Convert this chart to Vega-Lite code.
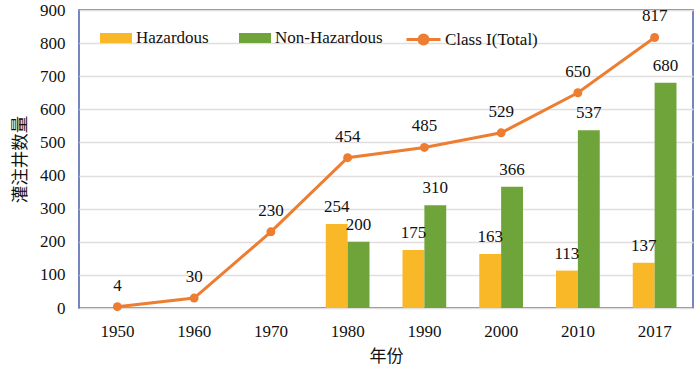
{
  "$schema": "https://vega.github.io/schema/vega-lite/v6.json",
  "autosize": "none",
  "width": 614,
  "height": 298,
  "padding": {"left": 79, "top": 10, "right": 7, "bottom": 67},
  "background": "white",
  "view": {"stroke": "#4a5ea8", "strokeWidth": 1.5},
  "datasets": {
    "bars": [
      {"year": "1980", "type": "Hazardous", "value": 254},
      {"year": "1980", "type": "Non-Hazardous", "value": 200},
      {"year": "1990", "type": "Hazardous", "value": 175},
      {"year": "1990", "type": "Non-Hazardous", "value": 310},
      {"year": "2000", "type": "Hazardous", "value": 163},
      {"year": "2000", "type": "Non-Hazardous", "value": 366},
      {"year": "2010", "type": "Hazardous", "value": 113},
      {"year": "2010", "type": "Non-Hazardous", "value": 537},
      {"year": "2017", "type": "Hazardous", "value": 137},
      {"year": "2017", "type": "Non-Hazardous", "value": 680}
    ],
    "totals": [
      {"year": "1950", "series": "Class I(Total)", "value": 4},
      {"year": "1960", "series": "Class I(Total)", "value": 30},
      {"year": "1970", "series": "Class I(Total)", "value": 230},
      {"year": "1980", "series": "Class I(Total)", "value": 454},
      {"year": "1990", "series": "Class I(Total)", "value": 485},
      {"year": "2000", "series": "Class I(Total)", "value": 529},
      {"year": "2010", "series": "Class I(Total)", "value": 650},
      {"year": "2017", "series": "Class I(Total)", "value": 817}
    ]
  },
  "encoding": {
    "x": {"field": "year", "type": "ordinal", "scale": {"domain": ["1950","1960","1970","1980","1990","2000","2010","2017"], "paddingInner": 0.43, "paddingOuter": 0.215},
          "axis": {"labelAngle": 0, "labelPadding": 15, "labelFont": "Liberation Serif", "labelFontSize": 17, "labelColor": "#111", "domain": false, "ticks": false, "labelOverlap": false,
                   "title": "年份", "titleFont": "Noto Sans CJK SC", "titleFontSize": 17, "titleFontWeight": "normal", "titleColor": "#111", "titlePadding": 9}},
    "y": {"field": "value", "type": "quantitative", "scale": {"domain": [0, 900], "nice": false},
          "axis": {"values": [0,100,200,300,400,500,600,700,800,900], "labelOverlap": false, "labelFlush": false, "labelFont": "Liberation Serif", "labelFontSize": 17, "labelColor": "#111", "domain": false, "ticks": false,
                   "gridColor": "#e2dede", "gridWidth": 1.5, "labelPadding": 14, "title": "灌注井数量", "titleFont": "Noto Sans CJK SC", "titleFontSize": 17.5, "titleFontWeight": "normal", "titleColor": "#111", "titlePadding": 10}}
  },
  "layer": [
    {
      "data": {"name": "bars"},
      "mark": {"type": "bar"},
      "encoding": {
        "xOffset": {"field": "type", "type": "nominal", "scale": {"domain": ["Hazardous", "Non-Hazardous"], "paddingInner": 0, "paddingOuter": 0}},
        "color": {"field": "type", "type": "nominal", "scale": {"domain": ["Hazardous", "Non-Hazardous"], "range": ["#f8b828", "#6fa43b"]},
                  "legend": {"title": null, "orient": "none", "legendX": 27, "legendY": 18, "direction": "horizontal", "symbolType": "M-1.6,-0.5H1.6V0.5H-1.6Z", "symbolSize": 400, "symbolStrokeWidth": 0, "symbolOpacity": 1, "labelOffset": 10, "columnPadding": 30, "labelFont": "Liberation Serif", "labelFontSize": 17, "labelColor": "#111", "labelLimit": 300}}
      }
    },
    {
      "data": {"name": "bars"},
      "mark": {"type": "text", "baseline": "middle", "dy": -17, "fontSize": 17, "color": "#111", "font": "Liberation Serif"},
      "encoding": {
        "xOffset": {"field": "type", "type": "nominal"},
        "text": {"field": "value", "type": "quantitative"}
      }
    },
    {
      "data": {"name": "totals"},
      "mark": {"type": "line", "strokeWidth": 3},
      "encoding": {
        "stroke": {"field": "series", "type": "nominal", "scale": {"range": ["#ed7d31"]},
                   "legend": {"title": null, "orient": "none", "legendX": 333, "legendY": 18, "symbolType": "M-1.7,0H1.7 M-0.45,0A0.45,0.45 0 1,0 0.45,0A0.45,0.45 0 1,0 -0.45,0", "symbolSize": 400, "symbolStrokeWidth": 3, "symbolFillColor": "#ed7d31", "symbolOpacity": 1, "labelOffset": 10, "labelFont": "Liberation Serif", "labelFontSize": 17, "labelColor": "#111", "labelLimit": 300}}
      }
    },
    {
      "data": {"name": "totals"},
      "mark": {"type": "point", "filled": true, "size": 80, "opacity": 1, "color": "#ed7d31"},
      "encoding": {}
    },
    {
      "data": {"name": "totals"},
      "mark": {"type": "text", "baseline": "middle", "dy": -21, "fontSize": 17, "color": "#111", "font": "Liberation Serif"},
      "encoding": {
        "text": {"field": "value", "type": "quantitative"}
      }
    }
  ]
}
